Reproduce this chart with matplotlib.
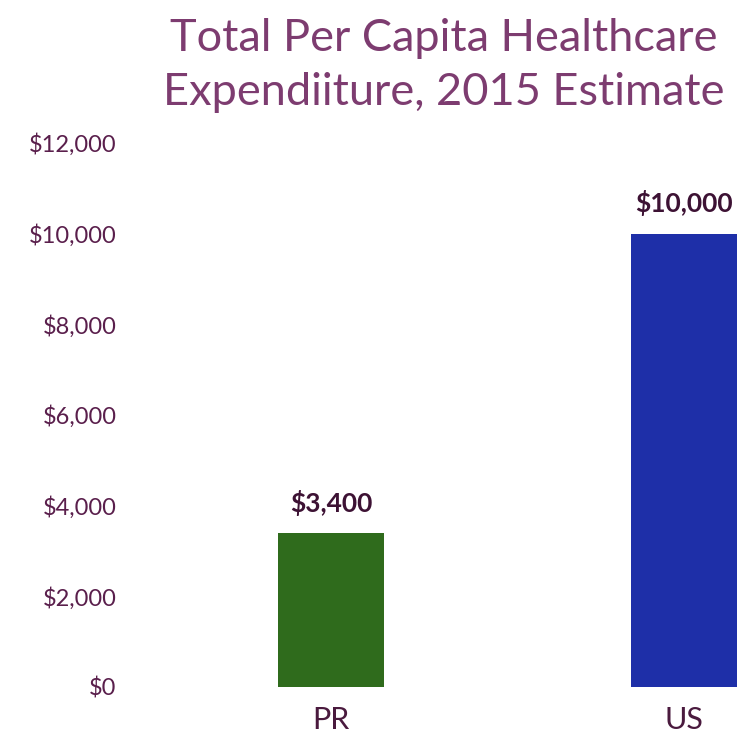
import matplotlib.pyplot as plt

# dados
categorias = ["PR", "US"]
valores = [3400, 10000]
rotulos_valores = ["$3,400", "$10,000"]
ticks_y = [0, 2000, 4000, 6000, 8000, 10000, 12000]
rotulos_y = ["$0", "$2,000", "$4,000", "$6,000", "$8,000", "$10,000", "$12,000"]
cores = ["#2f6b1c", "#1e2fa8"]

plt.rcParams["font.family"] = ["Lato", "DejaVu Sans"]

fig = plt.figure(figsize=(7.44, 7.44), dpi=100)
ax = fig.add_axes([140 / 744, 57 / 744, 604 / 744, 544 / 744])

pos = list(range(len(categorias)))
ax.bar(pos, valores, width=0.30, color=cores)

for x, v, r in zip(pos, valores, rotulos_valores):
    ax.text(x, v + 380, r, ha="center", va="bottom", fontsize=19,
            fontweight="bold", color="#3d1234")

ax.set_xlim(-0.541, 1.17)
ax.set_ylim(0, 12000)
ax.set_yticks(ticks_y)
ax.set_yticklabels(rotulos_y)
ax.set_xticks(pos)
ax.set_xticklabels(categorias)

ax.tick_params(axis="y", length=0, pad=17, labelsize=17, labelcolor="#5a1f4c")
ax.tick_params(axis="x", length=0, pad=14, labelsize=22, labelcolor="#4a1a3e")

for s in ax.spines.values():
    s.set_visible(False)

fig.text(0.597, 0.912, "Total Per Capita Healthcare\nExpendiiture, 2015 Estimate",
         ha="center", va="center", fontsize=32.5, color="#7d3c70",
         linespacing=1.38)

fig.savefig("out.png", dpi=100)
